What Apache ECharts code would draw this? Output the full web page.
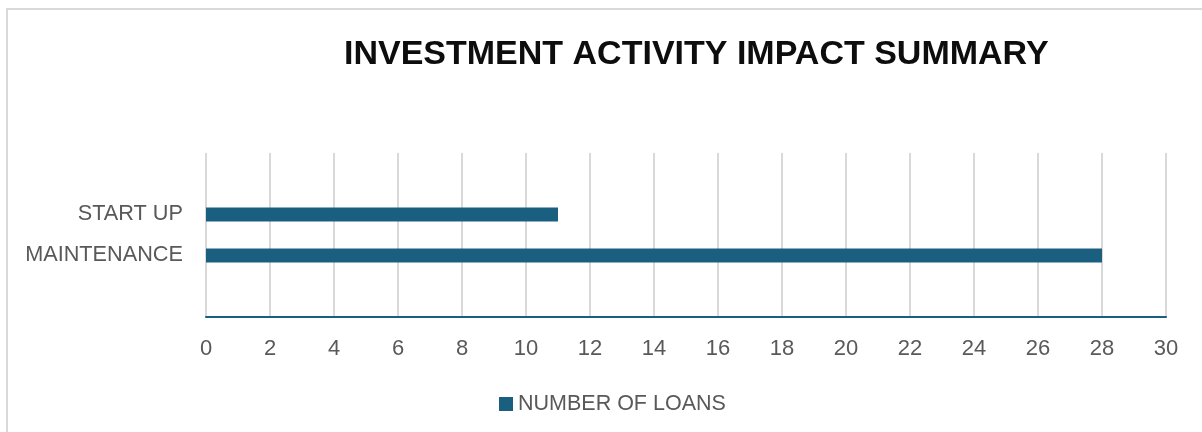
<!DOCTYPE html>
<html>
<head>
<meta charset="utf-8">
<style>
  html, body { margin: 0; padding: 0; background: #ffffff; }
  #chart { width: 1202px; height: 432px; }
</style>
<script src="https://cdn.jsdelivr.net/npm/echarts@6/dist/echarts.min.js"></script>
</head>
<body>
<div id="chart"></div>
<script>
// Categories listed bottom to top; the outer slots are left empty for spacing.
const categories = ['', 'MAINTENANCE', 'START UP', ''];
const loans = [null, 28, 11, null];
const xTicks = { min: 0, max: 30, interval: 2 };
const seriesName = 'NUMBER OF LOANS';
const titleText = 'INVESTMENT ACTIVITY IMPACT SUMMARY';

const barColor = '#1a5e80';
const labelColor = '#595959';
const gridColor = '#d9d9d9';
const fontStack = 'Liberation Sans, Arial, sans-serif';

const chart = echarts.init(document.getElementById('chart'), null, { renderer: 'canvas' });

chart.setOption({
  animation: false,
  backgroundColor: '#ffffff',
  graphic: [{
    type: 'rect',
    shape: { x: 7, y: 9, width: 1300, height: 500 },
    style: { fill: 'none', stroke: gridColor, lineWidth: 2 },
    silent: true
  }],
  title: {
    text: titleText,
    left: 339,
    top: 33,
    textStyle: {
      fontFamily: fontStack,
      fontWeight: 'bold',
      fontSize: 34,
      color: '#0d0d0d'
    }
  },
  legend: {
    data: [seriesName],
    left: 499,
    top: 393,
    padding: 0,
    itemWidth: 14,
    itemHeight: 14,
    itemGap: 10,
    icon: 'rect',
    textStyle: {
      fontFamily: fontStack,
      fontSize: 21.5,
      color: labelColor
    }
  },
  grid: {
    left: 206,
    right: 36,
    top: 153,
    bottom: 115,
    containLabel: false
  },
  xAxis: {
    type: 'value',
    min: xTicks.min,
    max: xTicks.max,
    interval: xTicks.interval,
    axisLine: { show: true, lineStyle: { color: barColor, width: 2 } },
    axisTick: { show: false },
    splitLine: { show: true, lineStyle: { color: gridColor, width: 2 } },
    axisLabel: {
      margin: 21,
      fontFamily: fontStack,
      fontSize: 22,
      color: labelColor
    }
  },
  yAxis: {
    type: 'category',
    data: categories,
    axisLine: { show: false },
    axisTick: { show: false },
    splitLine: { show: false },
    axisLabel: {
      margin: 23,
      fontFamily: fontStack,
      fontSize: 21.7,
      color: labelColor
    }
  },
  series: [{
    name: seriesName,
    type: 'bar',
    data: loans,
    barWidth: 14,
    itemStyle: { color: barColor }
  }]
});
</script>
</body>
</html>
